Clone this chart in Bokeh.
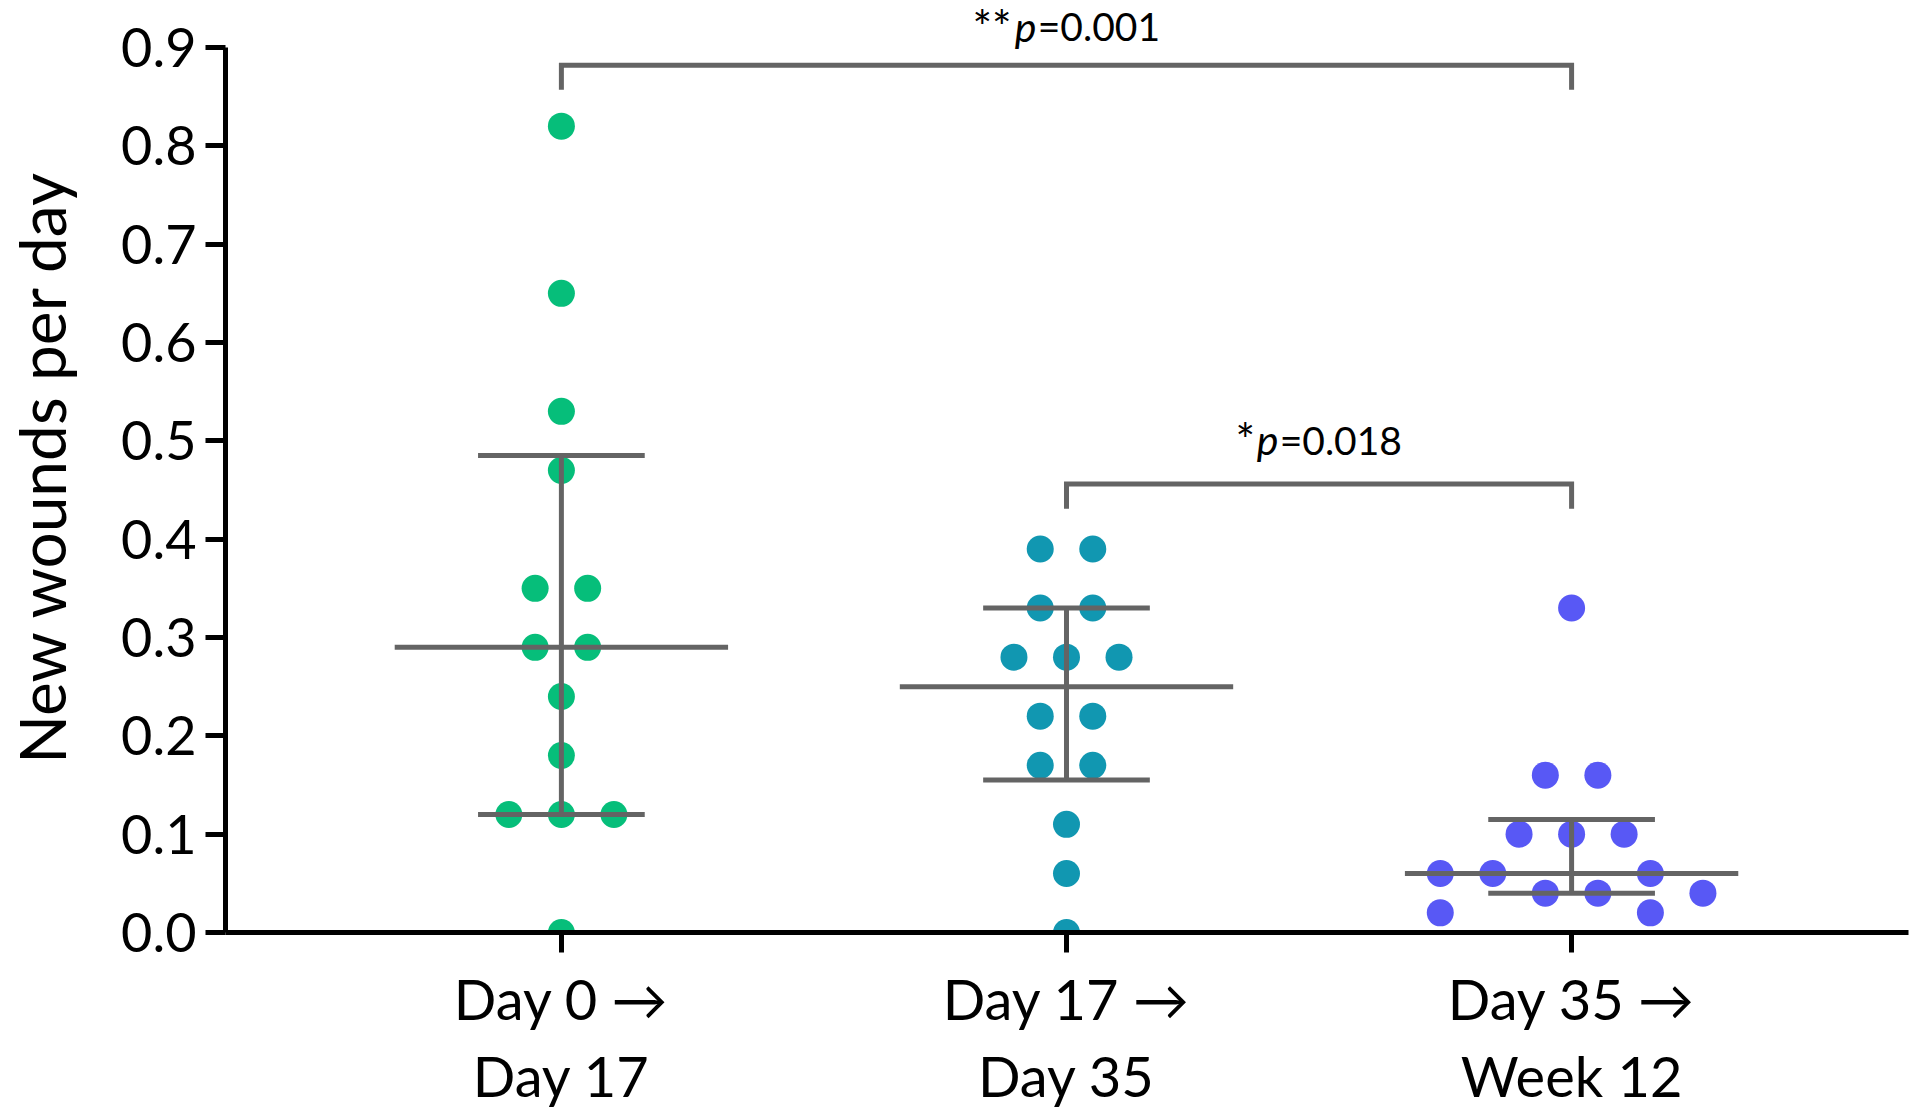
from bokeh.plotting import figure
from bokeh.models import FixedTicker, Range1d
from bokeh.core.properties import value
from bokeh.embed import file_html
from bokeh.resources import INLINE

# ---------------- data ----------------
categories = ["Day 0 \u2192\nDay 17", "Day 17 \u2192\nDay 35", "Day 35 \u2192\nWeek 12"]
colors = ["#06BE7A", "#1197B1", "#5858F5"]
y_title = "New wounds per day"

g1_values = [0.82, 0.65, 0.53, 0.47, 0.35, 0.35, 0.29, 0.29, 0.24, 0.18, 0.12, 0.12, 0.12, 0.0]
g2_values = [0.39, 0.39, 0.33, 0.33, 0.28, 0.28, 0.28, 0.22, 0.22, 0.17, 0.17, 0.11, 0.06, 0.0]
g3_values = [0.33, 0.16, 0.16, 0.10, 0.10, 0.10, 0.06, 0.06, 0.06, 0.04, 0.04, 0.04, 0.02, 0.02]

# swarm slot (layout) of each dot, in dot-widths from the category centre
g1_slots = [0, 0, 0, 0, -1, 1, -1, 1, 0, 0, -2, 0, 2, 0]
g2_slots = [-1, 1, -1, 1, -2, 0, 2, -1, 1, -1, 1, 0, 0, 0]
g3_slots = [0, -1, 1, -2, 0, 2, -5, -3, 3, -1, 1, 5, -5, 3]

medians = [0.29, 0.25, 0.06]
q1 = [0.12, 0.155, 0.04]
q3 = [0.485, 0.33, 0.115]

bracket_pairs = [(0, 2), (1, 2)]
bracket_heights = [0.882, 0.456]
bracket_text_y = [0.9215, 0.501]
p_stars = ["**", "*"]
p_rest = ["=0.001", "=0.018"]

y_ticks = [0.0, 0.1, 0.2, 0.3, 0.4, 0.5, 0.6, 0.7, 0.8, 0.9]

# ---------------- layout constants ----------------
FONT = "Lato"
GRAY = "#646464"
SLOT = 0.052          # dot spacing in x data units
MED_HALF = 0.33
CAP_HALF = 0.165
DROP = 0.025

positions = [1, 2, 3]

p = figure(
    frame_width=1683, frame_height=932,
    x_range=Range1d(0.335, 3.667), y_range=Range1d(0, 0.9478),
    output_backend="svg", toolbar_location=None,
    min_border_left=225, min_border_right=4, min_border_top=0, min_border_bottom=0,
)
p.outline_line_color = None
p.xgrid.visible = False
p.ygrid.visible = False
p.background_fill_color = "white"
p.border_fill_color = "white"

# dots
for pos, vals, slots, col in zip(positions, [g1_values, g2_values, g3_values],
                                 [g1_slots, g2_slots, g3_slots], colors):
    xs = [pos + s * SLOT for s in slots]
    p.scatter(xs, vals, size=27, fill_color=col, line_color=None, marker="circle")

# median + IQR bars
p.segment(x0=[x - MED_HALF for x in positions], x1=[x + MED_HALF for x in positions],
          y0=medians, y1=medians, line_color=GRAY, line_width=5)
p.segment(x0=positions, x1=positions, y0=q1, y1=q3, line_color=GRAY, line_width=5)
p.segment(x0=[x - CAP_HALF for x in positions], x1=[x + CAP_HALF for x in positions],
          y0=q1, y1=q1, line_color=GRAY, line_width=5)
p.segment(x0=[x - CAP_HALF for x in positions], x1=[x + CAP_HALF for x in positions],
          y0=q3, y1=q3, line_color=GRAY, line_width=5)

# significance brackets
EM = {"*": 0.46, "p": 0.56, "=": 0.58, ".": 0.25}
def width(s, fs):
    return sum(EM.get(c, 0.58) for c in s) * fs

FS = 39
FS_STAR = 46
FS_P = 41
for (a, b), h, ty, st, rest in zip(bracket_pairs, bracket_heights, bracket_text_y, p_stars, p_rest):
    xa, xb = positions[a], positions[b]
    p.line([xa, xa, xb, xb], [h - DROP, h, h, h - DROP], line_color=GRAY, line_width=5,
           line_join="miter")
    xm = (xa + xb) / 2
    w_st, w_p, w_r = width(st, FS_STAR), width("p", FS_P), width(rest, FS)
    total = w_st + w_p + w_r
    left = -total / 2
    common = dict(text_font=value(FONT), text_color="black", text_baseline="alphabetic",
                  text_align="left")
    p.text([xm], [ty], text=[st], x_offset=left, text_font_size=f"{FS_STAR}px", **common)
    p.text([xm], [ty], text=["p"], x_offset=left + w_st, text_font_size=f"{FS_P}px",
           text_font_style="italic", **common)
    p.text([xm], [ty], text=[rest], x_offset=left + w_st + w_p, text_font_size=f"{FS}px",
           **common)

# axes
xa_ = p.xaxis[0]
xa_.ticker = FixedTicker(ticks=positions)
xa_.major_label_overrides = {pos: lab for pos, lab in zip(positions, categories)}
xa_.major_label_text_font = FONT
xa_.major_label_text_font_size = "56px"
xa_.major_label_text_color = "black"
xa_.major_label_text_line_height = 1.15
xa_.major_label_standoff = 12
xa_.axis_line_width = 5
xa_.axis_line_color = "black"
xa_.major_tick_line_width = 5
xa_.major_tick_out = 20
xa_.major_tick_in = 0
xa_.minor_tick_line_color = None

ya = p.yaxis[0]
ya.ticker = FixedTicker(ticks=y_ticks)
ya.major_label_overrides = {t: f"{t:.1f}" for t in y_ticks}
ya.bounds = (0, 0.9)
ya.major_label_text_font = FONT
ya.major_label_text_font_size = "54px"
ya.major_label_text_color = "black"
ya.major_label_standoff = 9
ya.axis_line_width = 5
ya.axis_line_color = "black"
ya.major_tick_line_width = 5
ya.major_tick_out = 20
ya.major_tick_in = 0
ya.minor_tick_line_color = None
ya.axis_label = y_title
ya.axis_label_text_font = FONT
ya.axis_label_text_font_size = "64px"
ya.axis_label_text_font_style = "normal"
ya.axis_label_text_color = "black"
ya.axis_label_standoff = 38

open("out.html", "w").write(file_html(p, INLINE))
